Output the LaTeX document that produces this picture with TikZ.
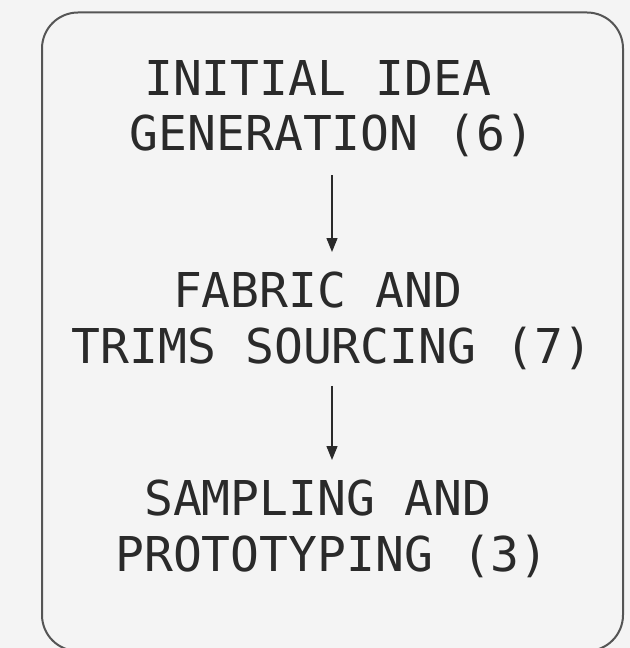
\documentclass[tikz,border=0pt]{standalone}
\usepackage{fontspec}
\newfontfamily\stepfont{DejaVu Sans Mono}
\usetikzlibrary{arrows.meta}
\definecolor{paper}{HTML}{F4F4F4}
\definecolor{ink}{HTML}{2A2A2A}
\definecolor{framecol}{HTML}{555555}
\begin{document}
\begin{tikzpicture}[x=1bp,y=-1bp,
  stepnode/.style={align=center, inner sep=0pt, anchor=north, text=ink,
    font=\stepfont\fontsize{48bp}{55.5bp}\selectfont},
  flow/.style={draw=ink, line width=1.3bp, -{Triangle[length=14bp,width=11bp]}}]
  % page and frame
  \fill[paper] (0,0) rectangle (630,648);
  \useasboundingbox (0,0) rectangle (630,648);
  \begin{scope}
    \clip (0,0) rectangle (630,648);
    \draw[framecol, line width=2bp, rounded corners=36bp] (42,12.5) rectangle (623,651);
  \end{scope}
  % process steps
  \node[stepnode] (idea)   at (332,60)  {INITIAL IDEA\hphantom{X}\\GENERATION (6)};
  \node[stepnode] (fabric) at (332,272) {FABRIC AND\hphantom{X}\\TRIMS SOURCING (7)};
  \node[stepnode] (sample) at (332,480) {SAMPLING AND\hphantom{X}\\PROTOTYPING (3)};
  % connectors
  \draw[flow, shorten <=18bp, shorten >=20bp] (idea.south) -- (fabric.north);
  \draw[flow, shorten <=16bp, shorten >=20bp] (fabric.south) -- (sample.north);
\end{tikzpicture}
\end{document}
